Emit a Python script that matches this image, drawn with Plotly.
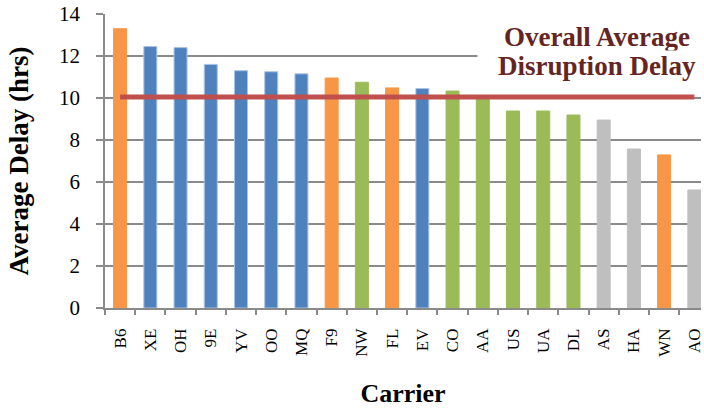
import plotly.graph_objects as go

# Average disruption delay per carrier (hours)
carriers = ["B6", "XE", "OH", "9E", "YV", "OO", "MQ", "F9", "NW", "FL",
            "EV", "CO", "AA", "US", "UA", "DL", "AS", "HA", "WN", "AO"]
avg_delay = [13.3, 12.45, 12.4, 11.6, 11.3, 11.25, 11.15, 10.95, 10.75, 10.48,
             10.45, 10.33, 10.0, 9.38, 9.38, 9.19, 8.95, 7.57, 7.29, 5.62]
carrier_group = ["low", "regional", "regional", "regional", "regional", "regional",
                 "regional", "low", "legacy", "low", "regional", "legacy", "legacy",
                 "legacy", "legacy", "legacy", "other", "other", "low", "other"]
overall_average = 10.05
label_lines = ["Overall Average", "Disruption Delay"]

group_colors = {"low": "#F79646", "regional": "#4F81BD",
                "legacy": "#9BBB59", "other": "#BFBFBF"}
bar_colors = [group_colors[g] for g in carrier_group]
edge_colors = ["#A9C3E6" if g == "regional" else group_colors[g] for g in carrier_group]

SERIF = "Liberation Serif"
GRID = "#8A8A8A"

fig = go.Figure()
fig.add_trace(go.Bar(
    x=carriers, y=avg_delay,
    marker=dict(color=bar_colors, line=dict(color=edge_colors, width=1)),
    width=0.43, showlegend=False, hoverinfo="x+y",
))
fig.add_trace(go.Scatter(
    x=[carriers[0], carriers[-1]], y=[overall_average, overall_average],
    mode="lines", line=dict(color="#C0504D", width=5),
    showlegend=False, hoverinfo="y",
))

# Label for the average line, two lines set on a white box
for text, ypos in zip(label_lines, [0.922, 0.823]):
    fig.add_annotation(
        xref="paper", yref="paper", x=0.825, y=ypos,
        xanchor="center", yanchor="middle",
        text=f"<b>{text}</b>",
        showarrow=False, align="center",
        font=dict(family=SERIF, size=27, color="#652523"),
        bgcolor="white", width=238, borderpad=0,
    )

fig.update_layout(
    width=704, height=410,
    margin=dict(l=105, r=0, t=14, b=102),
    paper_bgcolor="white", plot_bgcolor="white",
    font=dict(family=SERIF, color="black"),
)
fig.update_xaxes(
    type="category", range=[-0.5, 19.22],
    tickangle=-90, tickfont=dict(family=SERIF, size=17, color="black"),
    ticks="outside", ticklen=5, tickcolor=GRID, tickwidth=1.5,
    tickson="boundaries", ticklabelstandoff=12,
    showline=True, linecolor=GRID, linewidth=1.5,
    showgrid=False,
    title=dict(text="<b>Carrier</b>", font=dict(family=SERIF, size=26, color="black"),
               standoff=28),
)
fig.update_yaxes(
    range=[0, 14], dtick=2,
    tickfont=dict(family=SERIF, size=21, color="black"),
    ticks="outside", ticklen=7, tickcolor=GRID, tickwidth=1.5,
    ticklabelstandoff=12,
    showline=True, linecolor=GRID, linewidth=1.5,
    showgrid=True, gridcolor=GRID, gridwidth=1.7,
    zeroline=False,
    title=dict(text="<b>Average Delay (hrs)</b>", font=dict(family=SERIF, size=27, color="black"),
               standoff=23),
)

fig.write_html("out.html")
